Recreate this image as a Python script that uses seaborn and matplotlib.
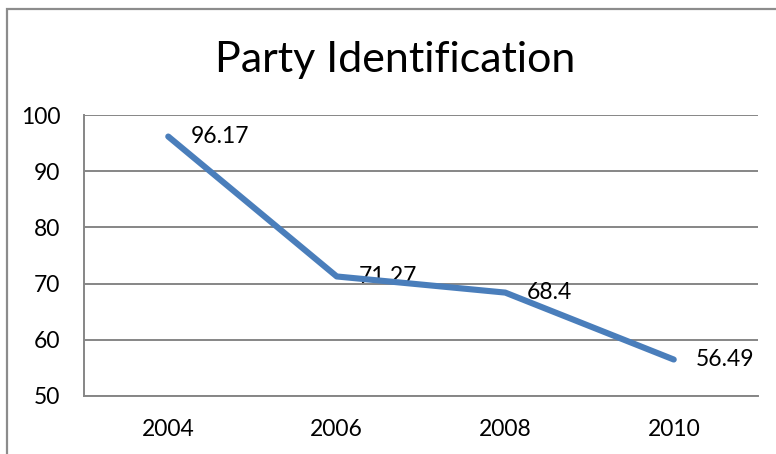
import matplotlib
matplotlib.use("Agg")
import matplotlib.pyplot as plt
from matplotlib.patches import Rectangle
import seaborn as sns
import pandas as pd

# Chart data
years = ["2004", "2006", "2008", "2010"]
party_id = [96.17, 71.27, 68.4, 56.49]
y_ticks = [50, 60, 70, 80, 90, 100]

sns.set_style("white")
plt.rcParams["font.family"] = ["Lato", "DejaVu Sans"]

W, H = 776, 454
fig = plt.figure(figsize=(W / 100, H / 100), dpi=100)
fig.patch.set_facecolor("white")

# chart-area frame (runs off the right and bottom edges)
fig.patches.append(Rectangle((7 / W, -0.1), 1.2, 1 - 9 / H + 0.1,
                             transform=fig.transFigure, fill=False,
                             edgecolor="#8c8c8c", linewidth=1.6))

ax = fig.add_axes([84 / W, (H - 396) / H, (758 - 84) / W, (396 - 115) / H])

df = pd.DataFrame({"year": years, "value": party_id})
sns.lineplot(data=df, x="year", y="value", ax=ax, color="#4a7ebb",
             linewidth=4.4, solid_capstyle="round", zorder=3)

ax.set_xlim(-0.5, len(years) - 0.5)
ax.set_ylim(min(y_ticks), max(y_ticks))
ax.set_yticks(y_ticks)
ax.set_xlabel("")
ax.set_ylabel("")

ax.set_axisbelow(True)
ax.yaxis.grid(True, color="#868686", linewidth=1.4)
ax.xaxis.grid(False)
for side in ["top", "right"]:
    ax.spines[side].set_visible(False)
for side in ["left", "bottom"]:
    ax.spines[side].set_color("#868686")
    ax.spines[side].set_linewidth(1.4)

ax.tick_params(axis="both", length=0, labelsize=16.5, colors="black")
ax.tick_params(axis="y", pad=17)
ax.tick_params(axis="x", pad=16.5)

# value labels to the right of each point
for i, v in enumerate(party_id):
    ax.annotate(f"{v:g}", xy=(i, v), xytext=(22, 0), textcoords="offset pixels",
                va="center", ha="left", fontsize=16.5, color="black", zorder=2)

fig.text(395.5 / W, (H - 72) / H, "Party Identification", ha="center",
         va="baseline", fontsize=31, color="black")

fig.savefig("out.png", dpi=100)
